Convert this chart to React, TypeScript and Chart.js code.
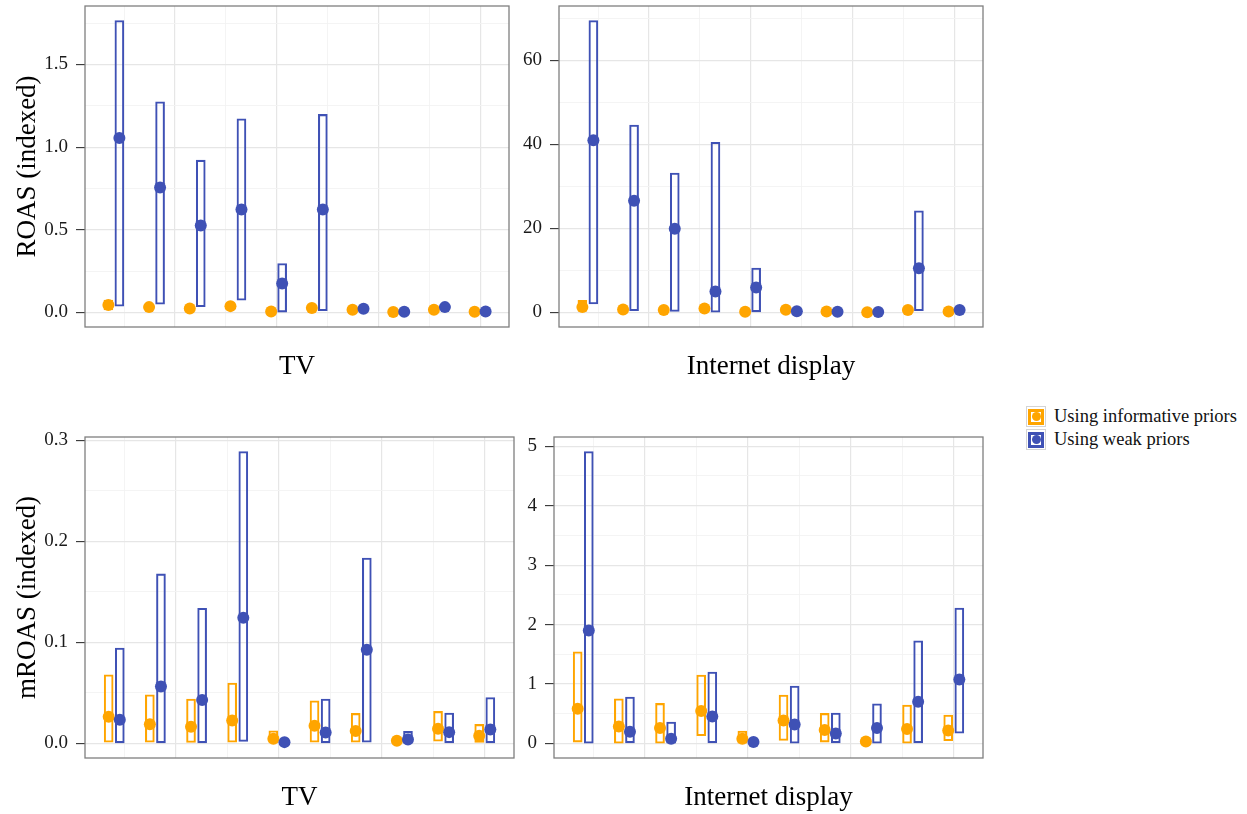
import React, { useEffect, useRef } from "react";
import { Chart, registerables } from "chart.js";

Chart.register(...registerables);

const ORANGE = "#FFA500";
const BLUE = "#3F51B5";
const FONT = "'Liberation Serif', 'Times New Roman', serif";
const MAJOR_GRID = "#e6e6e6";
const MINOR_GRID = "#f3f3f3";

// ten channels placed at 1..10 on a continuous x axis (no x tick labels)
const channelPositions = [1, 2, 3, 4, 5, 6, 7, 8, 9, 10];
const xMajorTicks = [2.5, 5, 7.5, 10];
const xMinorTicks = [1.25, 3.75, 6.25, 8.75];
const xMin = 0.29;
const xMax = 10.71;
const dodge = 0.135;

const seriesLabels = ["Using informative priors", "Using weak priors"];
const xTitles = ["TV", "Internet display"];
const yTitles = ["ROAS (indexed)", "mROAS (indexed)"];

// ---- ROAS, TV ----
const roasTvInfMid = [0.045, 0.032, 0.024, 0.038, 0.006, 0.026, 0.016, 0.002, 0.016, 0.004];
const roasTvInfLo = [0.015, 0.02, 0.015, 0.025, 0.001, 0.015, 0.008, 0.0, 0.008, 0.0];
const roasTvInfHi = [0.075, 0.045, 0.035, 0.058, 0.012, 0.038, 0.025, 0.005, 0.025, 0.008];
const roasTvWeakMid = [1.056, 0.756, 0.526, 0.623, 0.175, 0.623, 0.022, 0.004, 0.032, 0.006];
const roasTvWeakLo = [0.038, 0.05, 0.034, 0.074, 0.002, 0.01, 0.008, 0.0, 0.02, 0.0];
const roasTvWeakHi = [1.766, 1.274, 0.921, 1.171, 0.296, 1.198, 0.04, 0.01, 0.045, 0.012];
const roasTvTicks = [0, 0.5, 1, 1.5];
const roasTvTickLabels = ["0.0", "0.5", "1.0", "1.5"];
const roasTvMinor = [0.25, 0.75, 1.25, 1.75];
const roasTvRange = [-0.0883, 1.854];

// ---- ROAS, Internet display ----
const roasIdInfMid = [1.26, 0.7, 0.55, 0.95, 0.15, 0.62, 0.2, 0.05, 0.55, 0.2];
const roasIdInfLo = [0.3, 0.3, 0.2, 0.4, 0.02, 0.2, 0.05, 0.0, 0.2, 0.05];
const roasIdInfHi = [2.9, 1.2, 1.0, 1.6, 0.35, 1.1, 0.4, 0.15, 1.0, 0.4];
const roasIdWeakMid = [41.0, 26.6, 19.9, 5.0, 5.95, 0.3, 0.15, 0.1, 10.5, 0.55];
const roasIdWeakLo = [2.0, 0.4, 0.24, 0.07, 0.0, 0.1, 0.05, 0.02, 0.4, 0.2];
const roasIdWeakHi = [69.5, 44.6, 33.2, 40.5, 10.55, 0.8, 0.4, 0.3, 24.2, 1.0];
const roasIdTicks = [0, 20, 40, 60];
const roasIdTickLabels = ["0", "20", "40", "60"];
const roasIdMinor = [10, 30, 50, 70];
const roasIdRange = [-3.475, 72.975];

// ---- mROAS, TV ----
const mroasTvInfMid = [0.0264, 0.0191, 0.0165, 0.0228, 0.0046, 0.0175, 0.0122, 0.0027, 0.0145, 0.0076];
const mroasTvInfLo = [0.0013, 0.0013, 0.001, 0.0013, 0.001, 0.0013, 0.0013, 0.0008, 0.0023, 0.001];
const mroasTvInfHi = [0.068, 0.0482, 0.0439, 0.0597, 0.0125, 0.0422, 0.0297, 0.005, 0.0317, 0.0188];
const mroasTvWeakMid = [0.0234, 0.0564, 0.0429, 0.1244, 0.0013, 0.0109, 0.0927, 0.004, 0.0112, 0.0139];
const mroasTvWeakLo = [0, 0, 0, 0.002, 0, 0, 0.0013, 0, 0, 0];
const mroasTvWeakHi = [0.0944, 0.1677, 0.1337, 0.2888, 0.003, 0.0439, 0.1835, 0.0119, 0.03, 0.0455];
const mroasTvTicks = [0, 0.1, 0.2, 0.3];
const mroasTvTickLabels = ["0.0", "0.1", "0.2", "0.3"];
const mroasTvMinor = [0.05, 0.15, 0.25];
const mroasTvRange = [-0.0144, 0.3032];

// ---- mROAS, Internet display ----
const mroasIdInfMid = [0.583, 0.286, 0.258, 0.544, 0.078, 0.387, 0.224, 0.034, 0.241, 0.218];
const mroasIdInfLo = [0.022, 0.005, 0.005, 0.129, 0.005, 0.05, 0.022, 0.005, 0.005, 0.045];
const mroasIdInfHi = [1.542, 0.751, 0.673, 1.149, 0.207, 0.813, 0.505, 0.08, 0.645, 0.476];
const mroasIdWeakMid = [1.9, 0.196, 0.078, 0.454, 0.022, 0.32, 0.168, 0.258, 0.701, 1.076];
const mroasIdWeakLo = [0.005, 0, 0.005, 0.01, 0, 0.005, 0, 0.005, 0, 0.173];
const mroasIdWeakHi = [4.91, 0.779, 0.359, 1.2, 0.05, 0.964, 0.51, 0.667, 1.727, 2.276];
const mroasIdTicks = [0, 1, 2, 3, 4, 5];
const mroasIdTickLabels = ["0", "1", "2", "3", "4", "5"];
const mroasIdMinor = [0.5, 1.5, 2.5, 3.5, 4.5];
const mroasIdRange = [-0.2455, 5.1555];

type Band = { lo: number[]; hi: number[]; mid: number[] };
type PanelSpec = {
  id: string;
  left: number;
  top: number;
  w: number;
  h: number;
  padTop: number;
  padRight: number;
  yWidth: number;
  xTitle: string;
  yTitle?: string;
  yRange: number[];
  yTicks: number[];
  yTickLabels: string[];
  yMinor: number[];
  inf: Band;
  weak: Band;
};

const panels: PanelSpec[] = [
  {
    id: "tl", left: 0, top: 0, w: 515, h: 387, padTop: 6, padRight: 0, yWidth: 85,
    xTitle: xTitles[0], yTitle: yTitles[0], yRange: roasTvRange, yTicks: roasTvTicks,
    yTickLabels: roasTvTickLabels, yMinor: roasTvMinor,
    inf: { lo: roasTvInfLo, hi: roasTvInfHi, mid: roasTvInfMid },
    weak: { lo: roasTvWeakLo, hi: roasTvWeakHi, mid: roasTvWeakMid },
  },
  {
    id: "tr", left: 510, top: 0, w: 479, h: 387, padTop: 6, padRight: 0, yWidth: 49,
    xTitle: xTitles[1], yRange: roasIdRange, yTicks: roasIdTicks,
    yTickLabels: roasIdTickLabels, yMinor: roasIdMinor,
    inf: { lo: roasIdInfLo, hi: roasIdInfHi, mid: roasIdInfMid },
    weak: { lo: roasIdWeakLo, hi: roasIdWeakHi, mid: roasIdWeakMid },
  },
  {
    id: "bl", left: 0, top: 431, w: 520, h: 387, padTop: 6, padRight: 0, yWidth: 85,
    xTitle: xTitles[0], yTitle: yTitles[1], yRange: mroasTvRange, yTicks: mroasTvTicks,
    yTickLabels: mroasTvTickLabels, yMinor: mroasTvMinor,
    inf: { lo: mroasTvInfLo, hi: mroasTvInfHi, mid: mroasTvInfMid },
    weak: { lo: mroasTvWeakLo, hi: mroasTvWeakHi, mid: mroasTvWeakMid },
  },
  {
    id: "br", left: 515, top: 431, w: 474, h: 387, padTop: 6, padRight: 0, yWidth: 39,
    xTitle: xTitles[1], yRange: mroasIdRange, yTicks: mroasIdTicks,
    yTickLabels: mroasIdTickLabels, yMinor: mroasIdMinor,
    inf: { lo: mroasIdInfLo, hi: mroasIdInfHi, mid: mroasIdInfMid },
    weak: { lo: mroasIdWeakLo, hi: mroasIdWeakHi, mid: mroasIdWeakMid },
  },
];

const near = (arr: number[], v: number) => arr.some((a) => Math.abs(a - v) < 1e-9);

const borderPlugin = {
  id: "panelBorder",
  afterDatasetsDraw(chart: any) {
    const { ctx, chartArea: a } = chart;
    ctx.save();
    ctx.strokeStyle = "#7f7f7f";
    ctx.lineWidth = 1.3;
    ctx.strokeRect(a.left, a.top, a.right - a.left, a.bottom - a.top);
    ctx.restore();
  },
};

function buildConfig(s: PanelSpec): any {
  const boxDs = (b: Band, off: number, color: string, order: number) => ({
    type: "bar",
    data: channelPositions.map((p, i) => ({ x: p + off, y: [b.lo[i], b.hi[i]] })),
    borderColor: color,
    backgroundColor: "rgba(0,0,0,0)",
    borderWidth: 1.4,
    borderSkipped: false,
    barThickness: 9,
    grouped: false,
    order,
  });
  const ptDs = (b: Band, off: number, color: string, order: number) => ({
    type: "scatter",
    data: channelPositions.map((p, i) => ({ x: p + off, y: b.mid[i] })),
    pointRadius: 6,
    pointBackgroundColor: color,
    pointBorderWidth: 0,
    showLine: false,
    order,
  });
  const yAll = [...s.yTicks, ...s.yMinor].sort((a, b) => a - b);
  const xAll = [...xMinorTicks, ...xMajorTicks].sort((a, b) => a - b);
  return {
    type: "scatter",
    data: {
      datasets: [
        boxDs(s.inf, -dodge, ORANGE, 4),
        boxDs(s.weak, dodge, BLUE, 3),
        ptDs(s.inf, -dodge, ORANGE, 2),
        ptDs(s.weak, dodge, BLUE, 1),
      ],
    },
    options: {
      responsive: false,
      animation: false,
      events: [],
      layout: { padding: { top: s.padTop, right: s.padRight, left: 0, bottom: 0 } },
      plugins: { legend: { display: false }, tooltip: { enabled: false } },
      scales: {
        x: {
          type: "linear",
          min: xMin,
          max: xMax,
          offset: false,
          border: { display: false },
          grid: {
            offset: false,
            drawTicks: false,
            color: (c: any) => (c.tick && near(xMajorTicks, c.tick.value) ? MAJOR_GRID : MINOR_GRID),
            lineWidth: (c: any) => (c.tick && near(xMajorTicks, c.tick.value) ? 1.2 : 0.9),
          },
          ticks: { display: false },
          afterBuildTicks: (scale: any) => {
            scale.ticks = xAll.map((v) => ({ value: v }));
          },
          afterFit: (scale: any) => {
            scale.height = 60;
            scale.paddingLeft = 0;
            scale.paddingRight = 0;
          },
          title: {
            display: true,
            text: s.xTitle,
            color: "#000",
            font: { family: FONT, size: 27 },
            padding: { top: 0, bottom: 4 },
          },
        },
        y: {
          type: "linear",
          min: s.yRange[0],
          max: s.yRange[1],
          border: { display: false },
          grid: {
            drawTicks: true,
            tickLength: 9,
            color: (c: any) => (c.tick && near(s.yTicks, c.tick.value) ? MAJOR_GRID : MINOR_GRID),
            lineWidth: (c: any) => (c.tick && near(s.yTicks, c.tick.value) ? 1.2 : 0.9),
            tickColor: (c: any) => (c.tick && near(s.yTicks, c.tick.value) ? "#333333" : "rgba(0,0,0,0)"),
            tickWidth: 1.1,
          },
          ticks: {
            autoSkip: false,
            padding: 8,
            color: "#1a1a1a",
            font: { family: FONT, size: 19 },
            callback: (v: any) => {
              const idx = s.yTicks.findIndex((t) => Math.abs(t - v) < 1e-9);
              return idx >= 0 ? s.yTickLabels[idx] : "";
            },
          },
          afterBuildTicks: (scale: any) => {
            scale.ticks = yAll.map((v) => ({ value: v }));
          },
          afterFit: (scale: any) => {
            scale.width = s.yWidth;
            scale.paddingTop = 0;
            scale.paddingBottom = 0;
          },
          title: {
            display: !!s.yTitle,
            text: s.yTitle || "",
            color: "#000",
            font: { family: FONT, size: 27 },
            padding: { top: 12, bottom: 0 },
          },
        },
      },
    },
    plugins: [borderPlugin],
  };
}

function Panel({ spec }: { spec: PanelSpec }) {
  const ref = useRef<HTMLCanvasElement | null>(null);
  useEffect(() => {
    if (!ref.current) return;
    const chart = new Chart(ref.current, buildConfig(spec));
    return () => chart.destroy();
  }, [spec]);
  return (
    <canvas
      ref={ref}
      width={spec.w}
      height={spec.h}
      style={{ position: "absolute", left: spec.left, top: spec.top, width: spec.w, height: spec.h }}
    />
  );
}

function LegendKey({ color }: { color: string }) {
  return (
    <div
      style={{
        width: 20,
        height: 21,
        border: "1px solid #d4d4d4",
        boxSizing: "border-box",
        position: "relative",
        background: "#fff",
      }}
    >
      <div style={{ position: "absolute", left: 1, top: 1.5, width: 16, height: 16, background: color }} />
      <div style={{ position: "absolute", left: 4, top: 4.5, width: 10, height: 10, background: "#fff" }} />
      <div
        style={{
          position: "absolute",
          left: 4.5,
          top: 5,
          width: 9,
          height: 9,
          borderRadius: "50%",
          background: color,
        }}
      />
    </div>
  );
}

export default function App() {
  const colors = [ORANGE, BLUE];
  return (
    <div style={{ position: "absolute", left: 0, top: 0, width: 1247, height: 814, background: "#fff", overflow: "hidden" }}>
      {panels.map((p) => (
        <Panel key={p.id} spec={p} />
      ))}
      <div style={{ position: "absolute", left: 1026, top: 405, fontFamily: FONT, fontSize: 18.5, color: "#111" }}>
        {seriesLabels.map((label, i) => (
          <div key={label} style={{ display: "flex", alignItems: "center", height: 23 }}>
            <LegendKey color={colors[i]} />
            <span style={{ marginLeft: 8, whiteSpace: "nowrap", lineHeight: "23px" }}>{label}</span>
          </div>
        ))}
      </div>
    </div>
  );
}
